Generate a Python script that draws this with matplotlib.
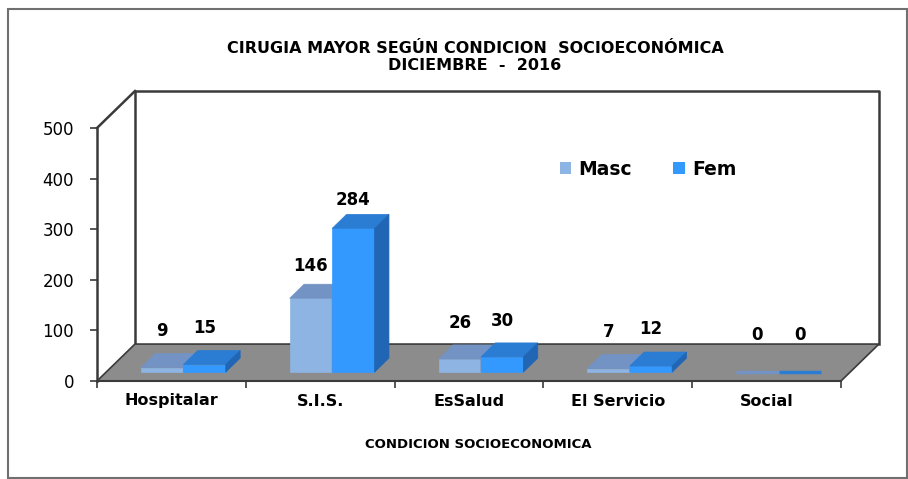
import matplotlib
matplotlib.use("Agg")
import matplotlib.pyplot as plt
from matplotlib.patches import Polygon, Rectangle, Patch

# data
CATEGORIES = ["Hospitalar", "S.I.S.", "EsSalud", "El Servicio", "Social"]
SERIES = ["Masc", "Fem"]
MASC = [9, 146, 26, 7, 0]
FEM = [15, 284, 30, 12, 0]
Y_TICKS = [0, 100, 200, 300, 400, 500]
TITLE = "CIRUGIA MAYOR SEGÚN CONDICION  SOCIOECONÓMICA\nDICIEMBRE  -  2016"
XLABEL = "CONDICION SOCIOECONOMICA"

# colours: front, top, side
COLORS = {
    "Masc": ("#8DB4E2", "#7393C4", "#6A8AB8"),
    "Fem": ("#3399FF", "#2B7DD4", "#2066B5"),
}
FLOOR = "#8C8C8C"
EDGE = "#3A3A3A"

W, H = 908, 479
fig = plt.figure(figsize=(W / 100, H / 100), dpi=100)
ax = fig.add_axes([97 / W, 1 - 381 / H, 744 / W, 253 / H])
ax.set_xlim(0, len(CATEGORIES))
ax.set_ylim(0, 500)

# pseudo-3d depth of the floor, in data units
DX, DY = 0.255, 73.0
D0, D1 = 0.24, 0.62      # bar front/back position inside the floor depth
BAR_W = 0.285
GROUP_OFF = 0.234

n = len(CATEGORIES)
xmax = n

# back wall
wall = [(DX, DY), (DX, 500 + DY), (xmax + DX, 500 + DY), (xmax + DX, DY)]
ax.plot(*zip(*wall), color=EDGE, lw=1.8, clip_on=False, zorder=1)
ax.plot([0, DX], [500, 500 + DY], color=EDGE, lw=1.8, clip_on=False, zorder=1)

# floor
floor = Polygon([(0, 0), (xmax, 0), (xmax + DX, DY), (DX, DY)], closed=True,
                facecolor=FLOOR, edgecolor=EDGE, lw=1.2, clip_on=False, zorder=2)
ax.add_patch(floor)


def draw_bar(x0, v, cols):
    front, top, side = cols
    fx, fy = D0 * DX, D0 * DY
    bx, by = D1 * DX, D1 * DY
    x1 = x0 + BAR_W
    if v == 0:
        ax.plot([x0 + fx, x1 + fx], [fy, fy], color=top, lw=2.5,
                clip_on=False, zorder=3, solid_capstyle="butt")
        return
    faces = [
        ([(x0 + fx, fy), (x1 + fx, fy), (x1 + fx, fy + v), (x0 + fx, fy + v)], front),
        ([(x0 + fx, fy + v), (x1 + fx, fy + v), (x1 + bx, by + v), (x0 + bx, by + v)], top),
        ([(x1 + fx, fy), (x1 + bx, by), (x1 + bx, by + v), (x1 + fx, fy + v)], side),
    ]
    for pts, c in faces:
        ax.add_patch(Polygon(pts, closed=True, facecolor=c, edgecolor=c,
                             lw=0.5, clip_on=False, zorder=3))


for i in range(n):
    for k, (name, vals) in enumerate(zip(SERIES, [MASC, FEM])):
        x0 = i + GROUP_OFF + k * BAR_W
        v = vals[i]
        draw_bar(x0, v, COLORS[name])
        off_px = 23 - 0.03 * v
        ax.annotate(str(v), (x0 + BAR_W / 2 + D0 * DX, v + D1 * DY),
                    xytext=(0, off_px * 0.72), textcoords="offset points",
                    ha="center", va="center", fontsize=12, fontweight="bold",
                    annotation_clip=False, zorder=5)

# axes styling
for s in ["top", "right"]:
    ax.spines[s].set_visible(False)
ax.spines["left"].set_color(EDGE)
ax.spines["left"].set_linewidth(1.8)
ax.spines["bottom"].set_color(EDGE)
ax.spines["bottom"].set_linewidth(1.5)
ax.spines["left"].set_zorder(4)
ax.spines["bottom"].set_zorder(4)
ax.set_facecolor("none")

ax.set_yticks(Y_TICKS)
ax.set_yticklabels([str(t) for t in Y_TICKS])
ax.tick_params(axis="y", length=5, width=1.2, color=EDGE, pad=11.5, labelsize=12)

ax.set_xticks(range(n + 1))
ax.set_xticklabels([])
ax.set_xticks([i + 0.5 for i in range(n)], minor=True)
ax.set_xticklabels(CATEGORIES, minor=True, fontsize=11.5, fontweight="bold")
ax.tick_params(axis="x", which="major", length=5, width=1.2, color=EDGE)
ax.tick_params(axis="x", which="minor", length=0, pad=9)

fig.text(475 / W, 1 - 57 / H, TITLE, ha="center", va="center", fontsize=11.5,
         fontweight="bold", linespacing=1.15)
fig.text(478 / W, 1 - 445 / H, XLABEL, ha="center", va="center", fontsize=9.5,
         fontweight="bold")

handles = [Patch(facecolor=COLORS[s][0], edgecolor="none") for s in SERIES]
fig.legend(handles, SERIES, loc="center", bbox_to_anchor=(648 / W, 1 - 169 / H),
           ncol=2, frameon=False, prop={"weight": "bold", "size": 13.5},
           handlelength=0.6, handleheight=0.6, handletextpad=0.4,
           columnspacing=2.2)

fig.add_artist(Rectangle((8 / W, 1 - 478 / H), 899 / W, 469 / H,
                         transform=fig.transFigure, fill=False,
                         edgecolor="#707070", lw=1.5))

fig.savefig("out.png", dpi=100)
